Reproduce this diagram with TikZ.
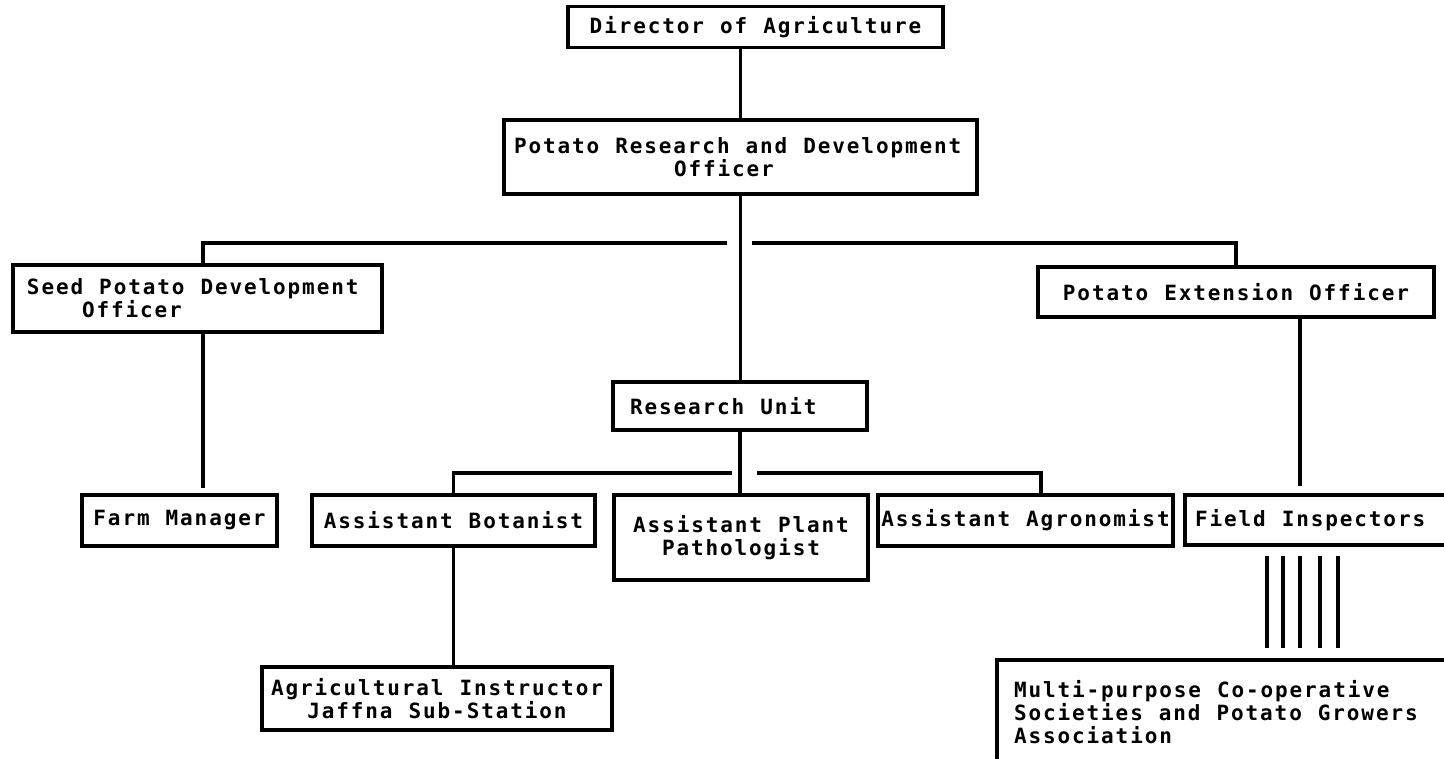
\documentclass[tikz,border=0pt]{standalone}
\usepackage{fontspec}
\newfontfamily\lett[LetterSpace=9]{DejaVu Sans Mono}
\newcommand\lettsize{\lett\bfseries\fontsize{21}{23}\selectfont\spaceskip=16pt\relax}
\tikzset{
  orgbox/.style={draw, line width=3.2pt, inner ysep=0pt, font=\lettsize},
  orgline/.style={line width=3.2pt},
}
\begin{document}
\begin{tikzpicture}[x=1pt,y=-1pt]
\useasboundingbox (0,0) rectangle (1444,759);
\clip (0,0) rectangle (1444,759);
\fill[white] (0,0) rectangle (1444,759);

% boxes
\node[orgbox, minimum width=375pt, minimum height=41pt, align=center] (dir) at (755.5,27) {Director of Agriculture};
\node[orgbox, minimum width=473pt, minimum height=74pt, inner xsep=10pt, text width=453pt, align=flush left] (prdo) at (740.5,157) {Potato Research and Development\\\hspace*{160pt}Officer};
\node[orgbox, minimum width=369pt, minimum height=67pt, inner xsep=14pt, text width=341pt, align=flush left] (spdo) at (197.5,298.5) {Seed Potato Development\\\hspace*{55pt}Officer};
\node[orgbox, minimum width=396pt, minimum height=50pt, align=center] (peo) at (1236,292) {Potato Extension Officer};
\node[orgbox, minimum width=254pt, minimum height=48pt, inner xsep=17pt, text width=220pt, align=flush left] (ru) at (740,406) {Research Unit};
\node[orgbox, minimum width=195pt, minimum height=51pt, align=center] (fm) at (179.5,520.5) {Farm Manager};
\node[orgbox, minimum width=283pt, minimum height=51pt, align=center] (ab) at (453.5,520.5) {Assistant Botanist};
\node[orgbox, minimum width=254pt, minimum height=85pt, align=center] (app) at (741,537.5) {Assistant Plant\\Pathologist};
\node[orgbox, minimum width=289pt, minimum height=51pt, align=center] (aa) at (1025.5,520.5) {Assistant Agronomist};
\node[orgbox, minimum width=275pt, minimum height=50pt, inner xsep=10pt, text width=255pt, align=flush left] (fi) at (1322.5,520) {Field Inspectors};
\node[orgbox, minimum width=350pt, minimum height=63pt, align=center] (ai) at (437,698.5) {Agricultural Instructor\\Jaffna Sub-Station};
\node[orgbox, minimum width=473pt, minimum height=105pt, inner xsep=17pt, text width=439pt, align=flush left] (mpcs) at (1233.5,712.5) {Multi-purpose Co-operative\\Societies and Potato Growers\\Association};

% helper coordinates
\coordinate (gapAl) at (727,243);
\coordinate (gapAr) at (752,243);
\coordinate (gapBl) at (732,473);
\coordinate (gapBr) at (757,473);
\coordinate (xspdo) at (203,0);
\coordinate (xpeo) at (1300,0);
\coordinate (xaa) at (1041,0);

% connectors
\draw[orgline] (dir.south -| prdo) -- (prdo.north);
\draw[orgline] (prdo.south) -- (prdo.south |- ru.north);
\draw[orgline] (spdo.north -| xspdo) |- (gapAl);
\draw[orgline] (peo.north) |- (gapAr);
\draw[orgline, shorten >=5pt] (spdo.south -| xspdo) -- (fm.north -| xspdo);
\draw[orgline, shorten >=7pt] (peo.south -| xpeo) -- (fi.north -| xpeo);
\draw[orgline] (ru.south) -- (ru.south |- app.north);
\draw[orgline] (ab.north) |- (gapBl);
\draw[orgline] (aa.north -| xaa) |- (gapBr);
\draw[orgline] (ab.south) -- (ab.south |- ai.north);
\foreach \xx in {1267,1283,1300,1320,1338}{
  \draw[orgline, shorten <=9pt, shorten >=10pt] (fi.south -| \xx,0) -- (mpcs.north -| \xx,0);
}
\end{tikzpicture}
\end{document}
